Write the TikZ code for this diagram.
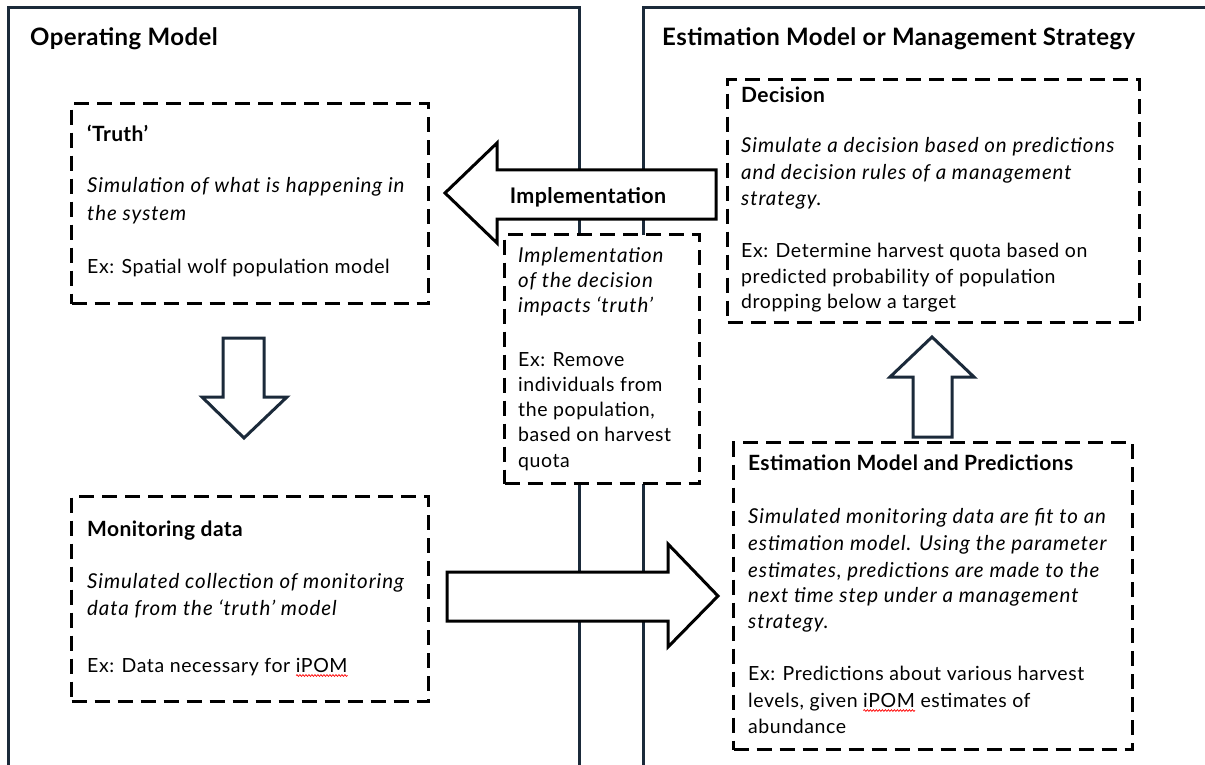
\documentclass[tikz,border=0pt]{standalone}
\usepackage{fontspec}
\setmainfont{Lato}
\newfontfamily\rfont{Lato}[LetterSpace=3]
\newfontfamily\ifont{Lato}[LetterSpace=4.5]
\newfontfamily\bfont{Lato}[LetterSpace=1.8]
\usetikzlibrary{decorations.pathmorphing}
\definecolor{navy}{HTML}{1B2A3A}
\begin{document}
\begin{tikzpicture}[x=1pt,y=-1pt,
  panel/.style={draw=navy,line width=3pt},
  dbox/.style={draw=black,line width=3.2pt,dash pattern=on 15pt off 8pt,fill=white,anchor=north west,inner sep=0pt},
  txt/.style={anchor=base west,inner sep=0pt,font=\rfont\fontsize{19.5}{22}\selectfont},
  ttl/.style={txt,font=\bfont\fontsize{21}{24}\selectfont\bfseries},
  itx/.style={txt,font=\ifont\fontsize{20.5}{22}\selectfont\itshape},
  hd/.style={txt,font=\bfont\fontsize{24}{28}\selectfont\bfseries},
  blk/.style={draw=black,line width=3pt,fill=white},
  nblk/.style={draw=navy,line width=3pt,fill=white},
  squig/.style={draw=red,line width=0.7pt,decorate,decoration={snake,segment length=3pt,amplitude=0.9pt}}]
\useasboundingbox (0,0) rectangle (1205,765);
\fill[white] (0,0) rectangle (1205,765);
% panels
\draw[panel] (8,800) -- (8,8) -- (579,8) -- (579,800);
\draw[panel] (643,800) -- (643,8) -- (1240,8);
\node[hd] (hleft) at (30,46) {Operating Model};
\node[hd] (hright) at (662,46) {Estimation Model or Management Strategy};
% truth box
\node[dbox,minimum width=357pt,minimum height=200pt] (truth) at (70,102) {};
\node[ttl] (truthT) at (87,142) {‘Truth’};
\node[itx] (truthS1) at (87,193) {Simulation of what is happening in};
\node[itx] (truthS2) at (87,220) {the system};
\node[txt] (truthE) at (87,273) {Ex: Spatial wolf population model};
% down arrow
\draw[nblk] (223,338) -- (264,338) -- (264,397) -- (287,397) -- (244,438) -- (202,397) -- (223,397) -- cycle;
% monitoring box
\node[dbox,minimum width=357pt,minimum height=205pt] (monit) at (70,495) {};
\node[ttl] (monT) at (87,536) {Monitoring data};
\node[itx] (monS1) at (87,588) {Simulated collection of monitoring};
\node[itx] (monS2) at (87,615) {data from the ‘truth’ model};
\node[txt] (monE) at (87,672) {Ex: Data necessary for iPOM};
\node[txt] (monP) at (87,672) {\phantom{Ex: Data necessary for\ }};
\draw[squig] ([yshift=-3.5pt]monP.base east) -- ([yshift=-3.5pt]monE.base east);
% right arrow
\draw[blk] (447,572) -- (668,572) -- (668,544) -- (718,596) -- (668,647) -- (668,621) -- (447,621) -- cycle;
% implementation arrow
\draw[blk] (445,193) -- (497,143) -- (497,170) -- (716,170) -- (716,219) -- (497,219) -- (497,243) -- cycle;
\node[ttl,anchor=base,font=\bfont\fontsize{21.5}{24}\selectfont\bfseries] (implab) at (588,203) {Implementation};
% implementation box
\node[dbox,minimum width=195pt,minimum height=249pt] (impl) at (503,233) {};
\node[itx] (impS1) at (518,262) {Implementation};
\node[itx] (impS2) at (518,287) {of the decision};
\node[itx] (impS3) at (518,312) {impacts ‘truth’};
\node[txt] (impE1) at (518,366) {Ex: Remove};
\node[txt] (impE2) at (518,391) {individuals from};
\node[txt] (impE3) at (518,416) {the population,};
\node[txt] (impE4) at (518,441) {based on harvest};
\node[txt] (impE5) at (518,467) {quota};
% decision box
\node[dbox,minimum width=412pt,minimum height=243pt] (dec) at (726,78) {};
\node[ttl] (decT) at (741,103) {Decision};
\node[itx] (decS1) at (741,153) {Simulate a decision based on predictions};
\node[itx] (decS2) at (741,179) {and decision rules of a management};
\node[itx] (decS3) at (741,205) {strategy.};
\node[txt] (decE1) at (741,257) {Ex: Determine harvest quota based on};
\node[txt] (decE2) at (741,283) {predicted probability of population};
\node[txt] (decE3) at (741,308) {dropping below a target};
% up arrow
\draw[nblk] (932,337) -- (974,377) -- (952,377) -- (952,437) -- (913,437) -- (913,377) -- (890,377) -- cycle;
% estimation box
\node[dbox,minimum width=399pt,minimum height=307pt] (est) at (732,441) {};
\node[ttl] (estT) at (748,470) {Estimation Model and Predictions};
\node[itx] (estS1) at (748,523) {Simulated monitoring data are fit to an};
\node[itx] (estS2) at (748,550) {estimation model. Using the parameter};
\node[itx] (estS3) at (748,577) {estimates, predictions are made to the};
\node[itx] (estS4) at (748,602) {next time step under a management};
\node[itx] (estS5) at (748,628) {strategy.};
\node[txt] (estE1) at (748,680) {Ex: Predictions about various harvest};
\node[txt] (estE2) at (748,707) {levels, given iPOM estimates of};
\node[txt] (estP1) at (748,707) {\phantom{levels, given\ }};
\node[txt] (estP2) at (748,707) {\phantom{levels, given iPOM}};
\draw[squig] ([yshift=-3.5pt]estP1.base east) -- ([yshift=-3.5pt]estP2.base east);
\node[txt] (estE3) at (748,733) {abundance};
\end{tikzpicture}
\end{document}
